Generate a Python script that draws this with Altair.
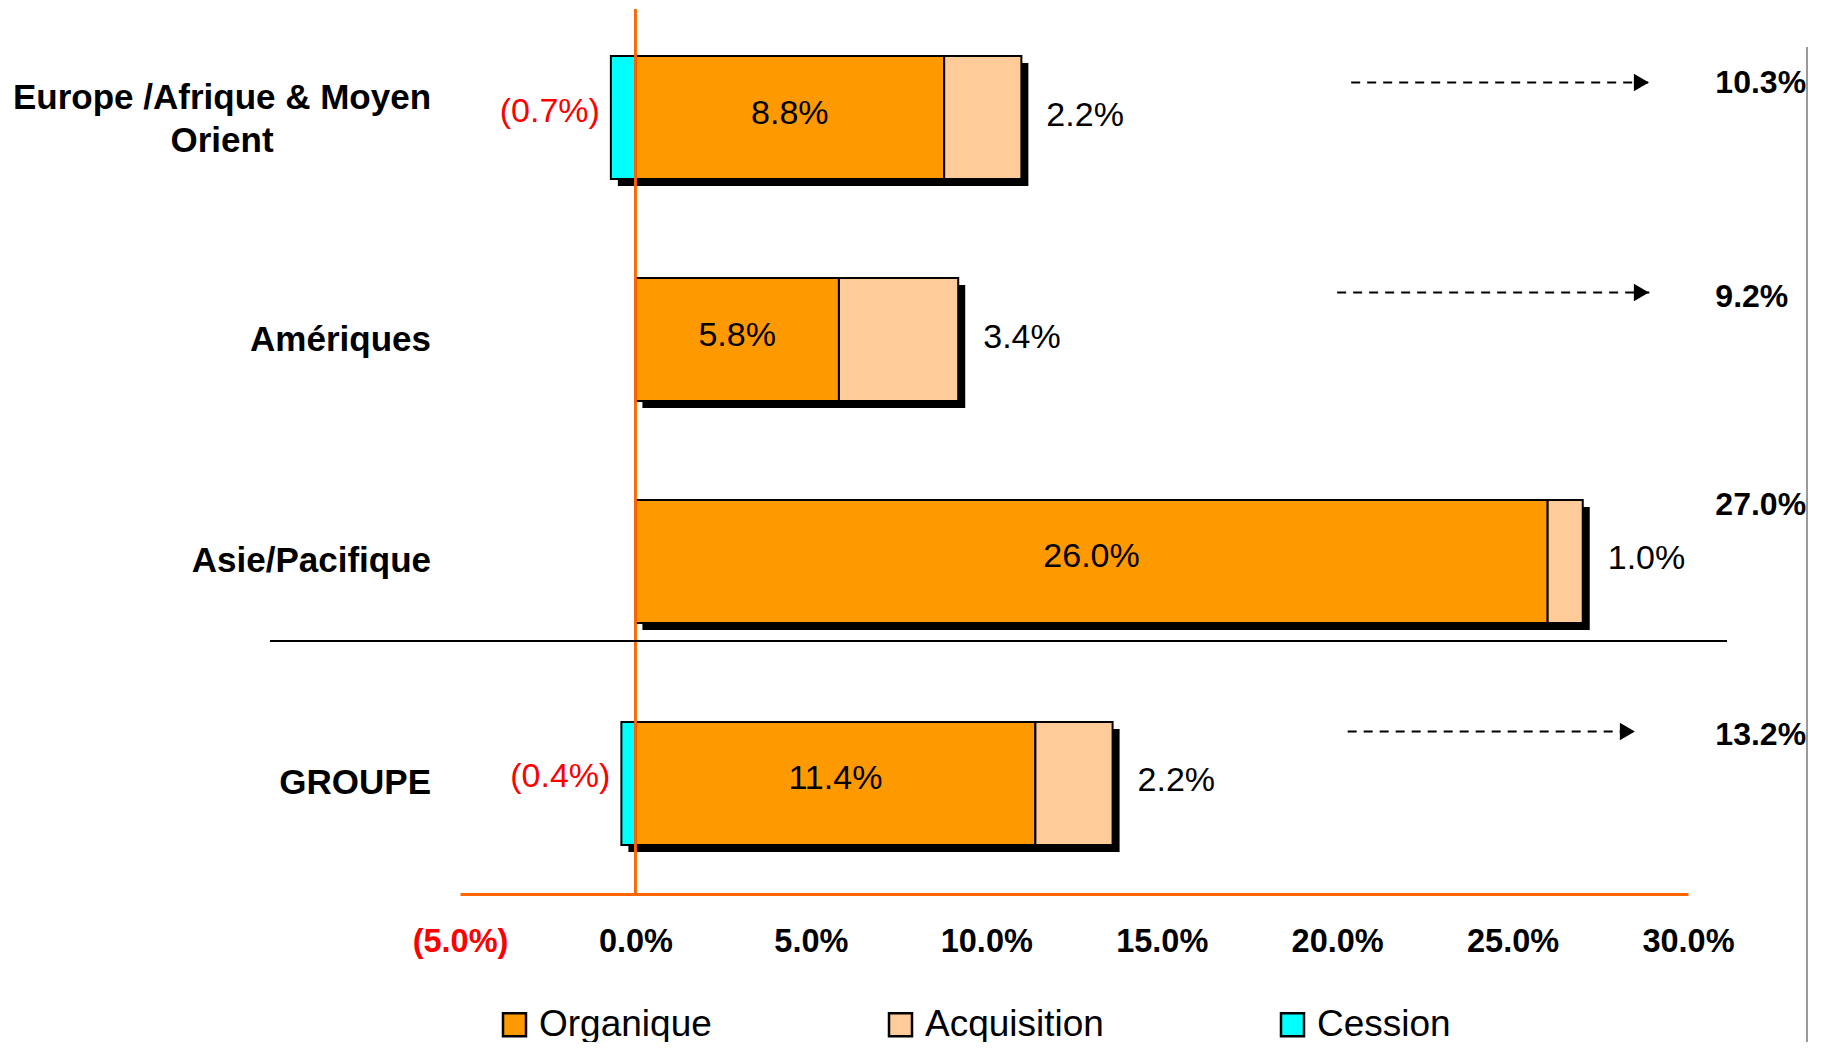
import altair as alt
import pandas as pd

# ---- data ----
REGIONS = ["Europe /Afrique & Moyen\nOrient", "Amériques", "Asie/Pacifique", "GROUPE"]
ORGANIQUE = [8.8, 5.8, 26.0, 11.4]
ACQUISITION = [2.2, 3.4, 1.0, 2.2]
CESSION = [-0.7, 0.0, 0.0, -0.4]
TOTAL = [10.3, 9.2, 27.0, 13.2]
SEGMENTS = ["Organique", "Acquisition", "Cession"]
SEG_COLORS = ["#FF9900", "#FFCC99", "#00FFFF"]
X_TICKS = [-5, 0, 5, 10, 15, 20, 25, 30]

# annotation arrows (in % units of the x scale) for the rows that have one
ARROW_ROWS = [0, 1, 3]
ARROW_FROM = [20.4, 20.0, 20.3]
ARROW_TO = [28.9, 28.9, 28.5]
TOTAL_LABEL_X = 30.78

# style: vertical offsets (px) of the total labels / arrows above each bar
TOTAL_DY = [-35, -43, -56, -48]
ARROW_DY = [-35, -47, -52]

FONT = "Liberation Sans"

# ---- tables built from the arrays ----
seg_rows = []
for r, o, a, c in zip(REGIONS, ORGANIQUE, ACQUISITION, CESSION):
    seg_rows.append({"region": r, "segment": "Organique", "start": 0.0, "end": o})
    seg_rows.append({"region": r, "segment": "Acquisition", "start": o, "end": o + a})
    if c != 0:
        seg_rows.append({"region": r, "segment": "Cession", "start": c, "end": 0.0})
segs = pd.DataFrame(seg_rows)

rows = pd.DataFrame({
    "region": REGIONS,
    "org": ORGANIQUE,
    "acq": ACQUISITION,
    "ces": CESSION,
    "total": TOTAL,
})
rows["left"] = rows["ces"].clip(upper=0)
rows["right"] = rows["org"] + rows["acq"]
rows["org_mid"] = rows["org"] / 2
rows["org_txt"] = rows["org"].map(lambda v: f"{v:.1f}%")
rows["acq_txt"] = rows["acq"].map(lambda v: f"{v:.1f}%")
rows["ces_txt"] = rows["ces"].map(lambda v: f"({abs(v):.1f}%)")
rows["total_txt"] = rows["total"].map(lambda v: f"{v:.1f}%")

arrows = pd.DataFrame({
    "region": [REGIONS[i] for i in ARROW_ROWS],
    "x0": ARROW_FROM,
    "x1": ARROW_TO,
})

W, H = 1228, 885

xscale = alt.Scale(domain=[-5, 30], nice=False, zero=False)
yscale = alt.Scale(domain=REGIONS, range=[47, 836], paddingInner=0.4459, paddingOuter=0)


def Y():
    return alt.Y("region:N", sort=REGIONS, scale=yscale, axis=None)


x_axis = alt.Axis(
    values=X_TICKS,
    grid=False,
    ticks=False,
    tickSize=0,
    domainColor="#FF6600",
    domainWidth=3,
    labelFont=FONT,
    labelFontSize=32.5,
    labelFontWeight="bold",
    labelPadding=31,
    labelFlush=False,
    labelOverlap=False,
    labelExpr="datum.value < 0 ? '(' + format(-datum.value, '.1f') + '%)' : format(datum.value, '.1f') + '%'",
    labelColor={"condition": {"test": "datum.value < 0", "value": "#FF0000"}, "value": "#000000"},
    title=None,
)

base_rows = alt.Chart(rows)

shadow = base_rows.mark_bar(color="#000000", xOffset=7, x2Offset=7, yOffset=7, y2Offset=7).encode(
    x=alt.X("left:Q", scale=xscale, axis=x_axis),
    x2="right:Q",
    y=Y(),
)

bars = alt.Chart(segs).mark_bar(stroke="#000000", strokeWidth=2, opacity=1).encode(
    x=alt.X("start:Q", scale=xscale, axis=x_axis),
    x2="end:Q",
    y=Y(),
    color=alt.Color(
        "segment:N",
        scale=alt.Scale(domain=SEGMENTS, range=SEG_COLORS),
        legend=alt.Legend(
            title=None,
            orient="none",
            legendX=36,
            legendY=997,
            direction="horizontal",
            symbolType="square",
            symbolSize=529,
            symbolStrokeColor="#000000",
            symbolStrokeWidth=2.5,
            symbolOpacity=1,
            labelFont=FONT,
            labelFontSize=37,
            labelColor="#000000",
            labelOffset=6,
            columnPadding=170,
            padding=0,
            labelLimit=400,
        ),
    ),
)

zero_line = alt.Chart(rows).mark_rule(color="#FF6600", strokeWidth=2).encode(
    x=alt.datum(0, scale=xscale)
)

separator = alt.Chart(rows).mark_rule(color="#000000", strokeWidth=2).encode(
    x=alt.value(-190), x2=alt.value(1267), y=alt.value(632)
)

border = alt.Chart(rows).mark_rule(color="#9A9A9A", strokeWidth=2).encode(
    x=alt.value(1347), y=alt.value(38), y2=alt.value(1045)
)

org_labels = base_rows.mark_text(font=FONT, fontSize=34, color="#000000", align="center",
                                 baseline="middle", dy=-4).encode(
    x=alt.X("org_mid:Q", scale=xscale), y=Y(), text="org_txt:N"
)

acq_labels = base_rows.mark_text(font=FONT, fontSize=34, color="#000000", align="left",
                                 baseline="middle", dx=25, dy=-2).encode(
    x=alt.X("right:Q", scale=xscale), y=Y(), text="acq_txt:N"
)

ces_labels = base_rows.transform_filter("datum.ces < 0").mark_text(
    font=FONT, fontSize=34, color="#FF0000", align="right", baseline="middle", dx=-11, dy=-6
).encode(x=alt.X("left:Q", scale=xscale), y=Y(), text="ces_txt:N")

total_layers = []
for reg, dy in zip(REGIONS, TOTAL_DY):
    total_layers.append(
        base_rows.transform_filter(alt.datum.region == reg).mark_text(
            font=FONT, fontSize=32, fontWeight="bold", color="#000000",
            align="left", baseline="middle", dy=dy
        ).encode(x=alt.datum(TOTAL_LABEL_X, scale=xscale), y=Y(), text="total_txt:N")
    )

arrow_layers = []
for reg, dy in zip(arrows["region"], ARROW_DY):
    sub = alt.Chart(arrows).transform_filter(alt.datum.region == reg)
    arrow_layers.append(
        sub.mark_rule(color="#000000", strokeWidth=2, strokeDash=[9, 7], yOffset=dy).encode(
            x=alt.X("x0:Q", scale=xscale), x2="x1:Q", y=Y()
        )
    )
    arrow_layers.append(
        sub.mark_point(shape="triangle-right", filled=True, color="#000000", size=300,
                       opacity=1, xOffset=-8, yOffset=dy).encode(
            x=alt.X("x1:Q", scale=xscale), y=Y()
        )
    )

cat_europe = base_rows.transform_filter(alt.datum.region == REGIONS[0]).mark_text(
    font=FONT, fontSize=35, fontWeight="bold", color="#000000", align="center",
    baseline="middle", lineBreak="\n", lineHeight=43, dy=-20
).encode(x=alt.value(-238), y=Y(), text="region:N")

cat_others = base_rows.transform_filter(alt.datum.region != REGIONS[0]).mark_text(
    font=FONT, fontSize=35, fontWeight="bold", color="#000000", align="right",
    baseline="middle"
).encode(x=alt.value(-29), y=Y(), text="region:N")

chart = alt.layer(
    shadow, bars, zero_line, separator, border,
    org_labels, acq_labels, ces_labels,
    *total_layers, *arrow_layers, cat_europe, cat_others,
).properties(
    width=W, height=H,
    padding={"left": 452, "top": 1, "right": 122, "bottom": 148},
    autosize=alt.AutoSizeParams(type="none"),
    background="#FFFFFF",
).configure_view(stroke=None)

chart.save("out.html", embed_options={"renderer": "svg", "actions": False})
